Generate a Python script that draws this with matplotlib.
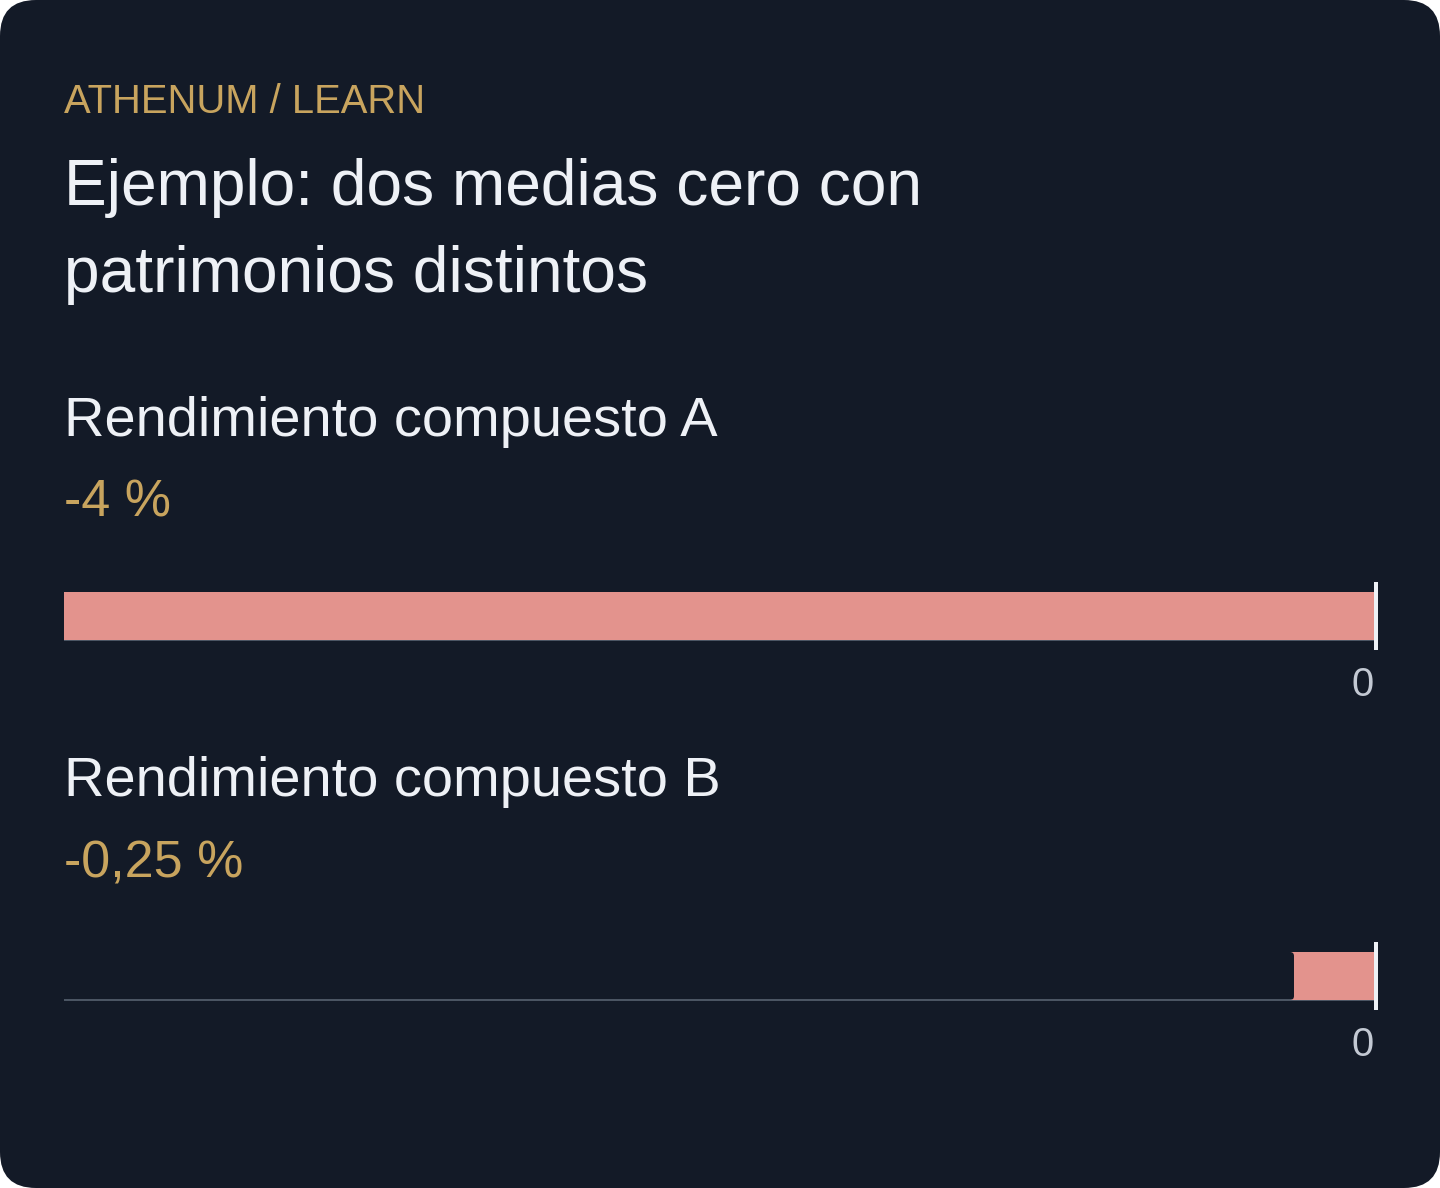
import matplotlib

matplotlib.use("Agg")

import matplotlib.pyplot as plt
from matplotlib.patches import FancyBboxPatch
from matplotlib.transforms import IdentityTransform

# datos
eyebrow = "ATHENUM / LEARN"
title_lines = ["Ejemplo: dos medias cero con", "patrimonios distintos"]
series_labels = ["Rendimiento compuesto A", "Rendimiento compuesto B"]
series_values = [-4.0, -0.25]
value_labels = ["-4 %", "-0,25 %"]
x_min, x_max = -4.0, 0.0

BG = "#131a27"
GOLD = "#c8a45e"
WHITE = "#eef1f6"
BAR = "#e3938d"
TICK = "#c3c9d3"
BASE = "#4b5563"

W, H, DPI = 1440, 1188, 100
plt.rcParams["font.family"] = ["Liberation Sans", "DejaVu Sans"]


def px(v: float) -> float:
    """px -> pt a dpi 100."""
    return v * 72 / DPI


fig = plt.figure(figsize=(W / DPI, H / DPI), dpi=DPI, facecolor="white")
card = FancyBboxPatch((0, 0), W, H, boxstyle="round,pad=0,rounding_size=36",
                      transform=IdentityTransform(), facecolor=BG, edgecolor="none", zorder=-10)
fig.add_artist(card)


def ftext(x, y, s, size, color, **kw):
    fig.text(x / W, 1 - y / H, s, fontsize=px(size), color=color, va="baseline", ha="left", **kw)


ftext(64, 113, eyebrow, 40, GOLD)
ftext(64, 205, title_lines[0], 64, WHITE)
ftext(64, 292, title_lines[1], 64, WHITE)

left, right = 64, 1376
for i, (lab, val, vlab) in enumerate(zip(series_labels, series_values, value_labels)):
    off = i * 360
    ftext(64, 436 + off, lab, 56, WHITE)
    ftext(64, 517 + off, vlab, 52, GOLD)

    top = 584 + off
    ax = fig.add_axes([left / W, 1 - (top + 64) / H, (right - left) / W, 64 / H])
    ax.set_facecolor("none")
    ax.set_xlim(x_min, x_max)
    ax.set_ylim(-32, 32)
    for s in ax.spines.values():
        s.set_visible(False)

    ax.axhline(-24, color=BASE, linewidth=px(2), zorder=1)
    bars = ax.barh([0], [val], height=48, color=BAR, zorder=2)
    # redondear esquinas de la barra
    r = bars[0]
    r.set_visible(False)
    xunit = (x_max - x_min) / (right - left)
    rounded = FancyBboxPatch((r.get_x(), r.get_y()), r.get_width(), r.get_height(),
                             boxstyle=f"round,pad=0,rounding_size={4 * xunit}",
                             mutation_aspect=1 / xunit, facecolor=BAR, edgecolor="none", zorder=2)
    ax.add_patch(rounded)
    ax.axvline(0, color=WHITE, linewidth=px(4), zorder=3, clip_on=False)

    ax.set_yticks([])
    ax.set_xticks([0])
    ax.set_xticklabels(["0"], ha="right")
    ax.tick_params(axis="x", length=0, pad=px(18), labelsize=px(40), labelcolor=TICK)
    for t in ax.get_xticklabels():
        t.set_x(0)
        t.set_transform(t.get_transform() + matplotlib.transforms.ScaledTranslation(-2 / DPI, 0, fig.dpi_scale_trans))

fig.savefig("out.png", dpi=DPI, facecolor="white")
